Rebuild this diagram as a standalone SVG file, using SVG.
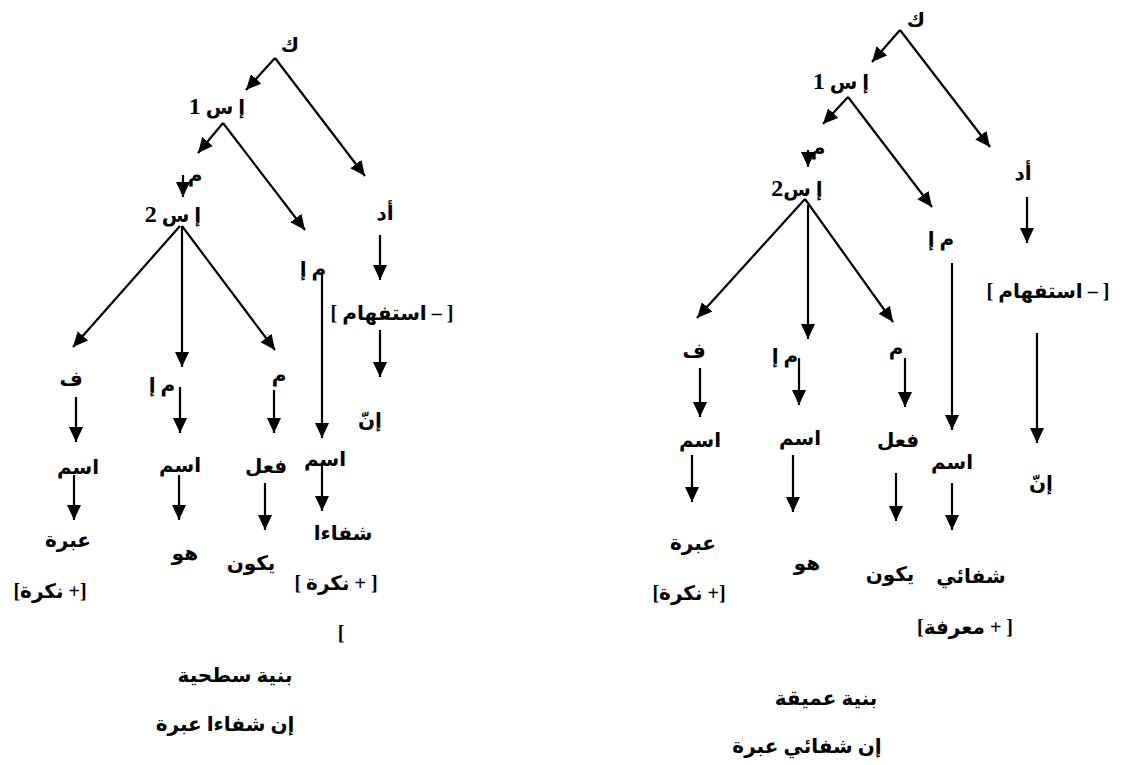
<svg xmlns="http://www.w3.org/2000/svg" width="1136" height="765" viewBox="0 0 1136 765">
<defs>
<marker id="ah" markerUnits="userSpaceOnUse" markerWidth="15" markerHeight="14" refX="15" refY="7" orient="auto">
<path d="M0,0 L15,7 L0,14 z" fill="#000"/>
</marker>
<style>
text{font-family:"Liberation Serif","DejaVu Sans",serif;font-weight:bold;font-size:20px;fill:#000;text-anchor:middle;direction:rtl;unicode-bidi:embed}
.n{font-size:24px}
.c line{stroke:#000;stroke-width:2.2;marker-end:url(#ah)}
</style>
</defs>
<rect width="1136" height="765" fill="#fff"/>
<g class="c" id="connectors">
<line x1="275" y1="58" x2="246" y2="90"/>
<line x1="275" y1="58" x2="365" y2="176"/>
<line x1="223" y1="123" x2="198" y2="153"/>
<line x1="223" y1="123" x2="305" y2="230"/>
<line x1="183" y1="175" x2="183" y2="197"/>
<line x1="380" y1="235" x2="380" y2="280"/>
<line x1="380" y1="330" x2="380" y2="377"/>
<line x1="180" y1="226" x2="73" y2="347"/>
<line x1="182" y1="226" x2="182" y2="367"/>
<line x1="182" y1="226" x2="275" y2="350"/>
<line x1="322" y1="273" x2="322" y2="438"/>
<line x1="76" y1="397" x2="76" y2="442"/>
<line x1="180" y1="387" x2="180" y2="433"/>
<line x1="274" y1="390" x2="274" y2="433"/>
<line x1="74" y1="475" x2="74" y2="520"/>
<line x1="179" y1="475" x2="179" y2="520"/>
<line x1="265" y1="483" x2="265" y2="530"/>
<line x1="322" y1="462" x2="322" y2="511"/>
<line x1="900" y1="30" x2="872" y2="62"/>
<line x1="900" y1="30" x2="990" y2="147"/>
<line x1="848" y1="97" x2="823" y2="124"/>
<line x1="848" y1="97" x2="932" y2="207"/>
<line x1="808" y1="150" x2="808" y2="167"/>
<line x1="1027" y1="197" x2="1027" y2="243"/>
<line x1="805" y1="199" x2="697" y2="318"/>
<line x1="808" y1="205" x2="808" y2="339"/>
<line x1="805" y1="199" x2="893" y2="322"/>
<line x1="952" y1="263" x2="952" y2="430"/>
<line x1="1037" y1="333" x2="1037" y2="443"/>
<line x1="700" y1="368" x2="700" y2="417"/>
<line x1="799" y1="358" x2="799" y2="405"/>
<line x1="905" y1="358" x2="905" y2="407"/>
<line x1="692" y1="455" x2="692" y2="502"/>
<line x1="793" y1="455" x2="793" y2="512"/>
<line x1="896" y1="473" x2="896" y2="521"/>
<line x1="952" y1="483" x2="952" y2="530"/>
</g>
<g id="left-tree">
<g id="L-k"><text x="290" y="52">ك</text></g>
<g id="L-is1"><text x="217" y="114">إ س <tspan class="n">1</tspan></text></g>
<g id="L-m"><text x="195" y="182">م</text></g>
<g id="L-is2"><text x="173" y="222">إ س <tspan class="n">2</tspan></text></g>
<g id="L-ad"><text x="385" y="220">أد</text></g>
<g id="L-mi"><text x="313" y="276">م إ</text></g>
<g id="L-istifham"><text x="392" y="320">[ – استفهام ]</text></g>
<g id="L-inna"><text x="370" y="427">إنّ</text></g>
<g id="L-f"><text x="71" y="386">ف</text></g>
<g id="L-mi2"><text x="162" y="392">م إ</text></g>
<g id="L-m2"><text x="279" y="382">م</text></g>
<g id="L-ism1"><text x="78" y="474">اسم</text></g>
<g id="L-ism2"><text x="180" y="472">اسم</text></g>
<g id="L-fiel"><text x="266" y="473">فعل</text></g>
<g id="L-ism3"><text x="325" y="466">اسم</text></g>
<g id="L-ibra"><text x="68" y="547">عبرة</text></g>
<g id="L-huwa"><text x="185" y="560">هو</text></g>
<g id="L-yakun"><text x="251" y="570">يكون</text></g>
<g id="L-shifa"><text x="343" y="540">شفاءا</text></g>
<g id="L-nakira2"><text x="336" y="590">[ + نكرة ]</text></g>
<g id="L-nakira1"><text x="50" y="598">[+ نكرة]</text></g>
<g id="L-bracket"><text x="341" y="640">]</text></g>
<g id="L-title"><text x="235" y="682">بنية سطحية</text></g>
<g id="L-sentence"><text x="225" y="731">إن شفاءا عبرة</text></g>
</g>
<g id="right-tree">
<g id="R-k"><text x="916" y="27">ك</text></g>
<g id="R-is1"><text x="841" y="89">إ س <tspan class="n">1</tspan></text></g>
<g id="R-m"><text x="818" y="155">م</text></g>
<g id="R-is2"><text x="797" y="196">إ س<tspan class="n">2</tspan></text></g>
<g id="R-ad"><text x="1023" y="180">أد</text></g>
<g id="R-mi"><text x="941" y="246">م إ</text></g>
<g id="R-istifham"><text x="1048" y="298">[ – استفهام ]</text></g>
<g id="R-inna"><text x="1041" y="490">إنّ</text></g>
<g id="R-f"><text x="694" y="358">ف</text></g>
<g id="R-mi2"><text x="785" y="363">م إ</text></g>
<g id="R-m2"><text x="896" y="355">م</text></g>
<g id="R-ism1"><text x="700" y="447">اسم</text></g>
<g id="R-ism2"><text x="800" y="445">اسم</text></g>
<g id="R-fiel"><text x="898" y="447">فعل</text></g>
<g id="R-ism3"><text x="952" y="469">اسم</text></g>
<g id="R-ibra"><text x="693" y="550">عبرة</text></g>
<g id="R-huwa"><text x="807" y="570">هو</text></g>
<g id="R-yakun"><text x="890" y="581">يكون</text></g>
<g id="R-shifai"><text x="971" y="583">شفائي</text></g>
<g id="R-nakira"><text x="689" y="600">[+ نكرة]</text></g>
<g id="R-marifa"><text x="965" y="634">[ + معرفة]</text></g>
<g id="R-title"><text x="826" y="705">بنية عميقة</text></g>
<g id="R-sentence"><text x="807" y="753">إن شفائي عبرة</text></g>
</g>
</svg>
